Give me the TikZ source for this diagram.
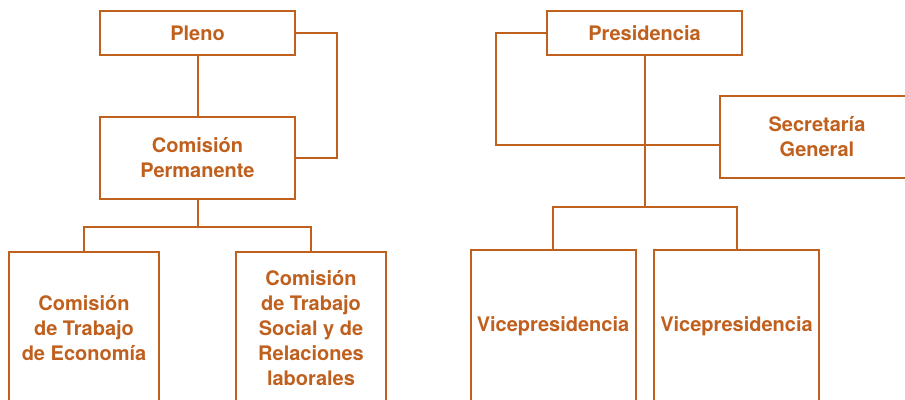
\documentclass[tikz,border=0pt]{standalone}
\usepackage{fontspec}
\setmainfont{TeX Gyre Heros}
\definecolor{naranja}{HTML}{C0601E}
\tikzset{
	caja/.style={draw=naranja, line width=2pt, text=naranja, align=center, inner sep=0pt,
		font=\bfseries\fontsize{20}{25}\selectfont},
	linea/.style={draw=naranja, line width=2pt}
}

\begin{document}
\begin{tikzpicture}[x=1pt,y=-1pt]
		
		%Picture frame
		\useasboundingbox (0,0) rectangle (905,399);
		\clip (0,0) rectangle (905,399);
		
		%Left chart boxes
		\node [caja,minimum width=195pt,minimum height=44pt] (pleno) at (197.5,33) {Pleno};
		\node [caja,minimum width=195pt,minimum height=82pt] (perm) at (197.5,158) {Comisión\\Permanente};
		\node [caja,minimum width=150pt,minimum height=152pt] (econ) at (84,328) {Comisión\\de Trabajo\\de Economía};
		\node [caja,minimum width=150pt,minimum height=152pt] (social) at (311,328) {Comisión\\de Trabajo\\Social y de\\Relaciones\\laborales};
		
		%Right chart boxes
		\node [caja,minimum width=195pt,minimum height=44pt] (pres) at (644.5,33) {Presidencia};
		\node [caja,minimum width=194pt,minimum height=82pt] (secre) at (817,137) {Secretaría\\General};
		\node [caja,minimum width=165pt,minimum height=152pt] (vice1) at (553,326) {Vicepresidencia};
		\node [caja,minimum width=165pt,minimum height=152pt] (vice2) at (736.5,326) {Vicepresidencia};
		
		%Left connectors
		\draw [linea] (pleno.south) -- (perm.north);
		\draw [linea] (pleno.east) -- ++(41,0) |- (perm.east);
		\draw [linea] (perm.south) -- ++(0,27) coordinate (horq1);
		\draw [linea] (horq1) -| (econ.north);
		\draw [linea] (horq1) -| (social.north);
		
		%Right connectors
		\coordinate (bus) at (496,145);
		\draw [linea] (pres.west) -| (bus) -- (bus -| secre.west);
		\draw [linea] (pres.south) -- ++(0,151) coordinate (horq2);
		\draw [linea] (horq2) -| (vice1.north);
		\draw [linea] (horq2) -| (vice2.north);
	\end{tikzpicture}
\end{document}
